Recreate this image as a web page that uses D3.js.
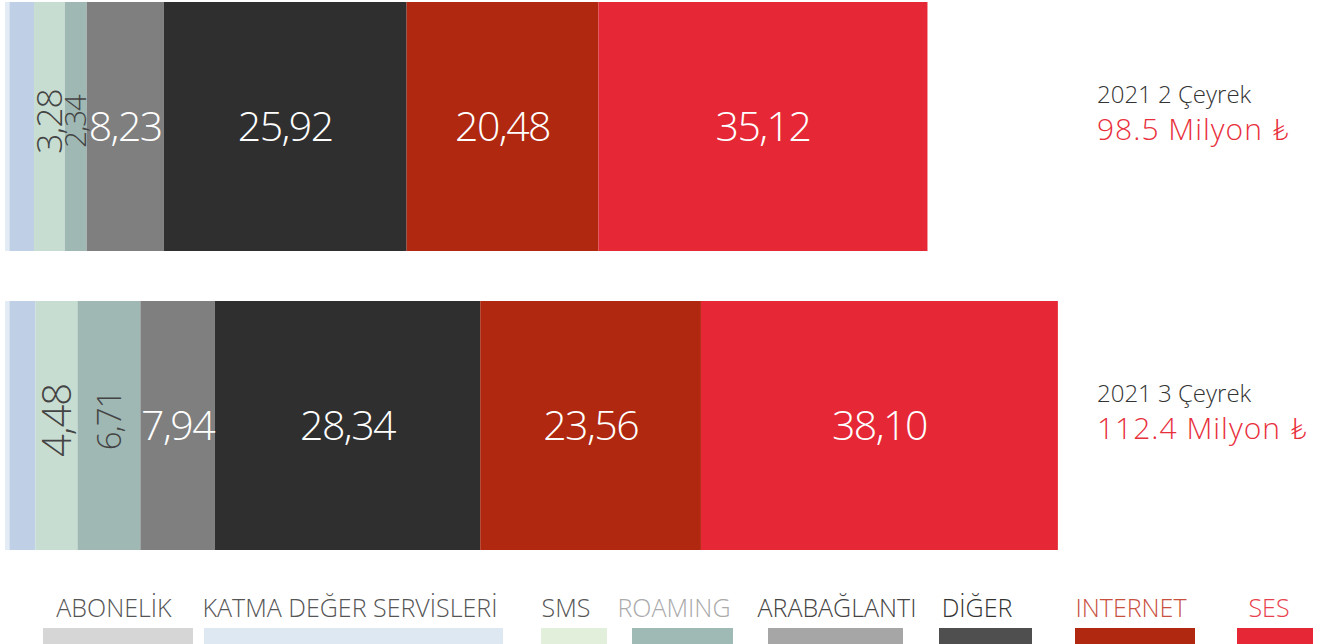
<!DOCTYPE html>
<html>
<head>
<meta charset="utf-8">
<script src="https://cdn.jsdelivr.net/npm/d3@7"></script>
<style>
  body { margin: 0; background: #fff; overflow: hidden; }
  text { font-family: "Open Sans", Lato, sans-serif; font-weight: 300; }
</style>
</head>
<body>
<div id="chart"></div>
<script>
// Set up SVG params
var svgWdt = 1324;
var svgHgt = 644;

// Data
var periods = ["2021 2 Çeyrek", "2021 3 Çeyrek"];
var totals = ["98.5 Milyon ₺", "112.4 Milyon ₺"];
var series = ["ABONELİK", "KATMA DEĞER SERVİSLERİ", "SMS", "ROAMING", "ARABAĞLANTI", "DİĞER", "INTERNET", "SES"];
var q2Values = [0.48, 2.62, 3.28, 2.34, 8.23, 25.92, 20.48, 35.12];
var q3Values = [0.48, 2.78, 4.48, 6.71, 7.94, 28.34, 23.56, 38.10];
var valueLabels = [
    ["", "", "3,28", "2,34", "8,23", "25,92", "20,48", "35,12"],
    ["", "", "4,48", "6,71", "7,94", "28,34", "23,56", "38,10"]
];

// Colours
var barColors = ["#e3ebf4", "#bfd0e6", "#c8ddd2", "#9fb8b3", "#7f7f7f", "#2f2f2f", "#b0280f", "#e62736"];
var swatchColors = ["#d6d6d6", "#dde8f3", "#e2efdb", "#9fbab5", "#a6a6a6", "#4f4f4f", "#b0280f", "#e62736"];
var legendTextColors = ["#555", "#555", "#555", "#aaa", "#444", "#333", "#c8503e", "#e8404c"];
var rotatedSeries = ["SMS", "ROAMING"];

// Legend layout (text centre, swatch left/right)
var legendTextX = [114, 350, 566, 674, 837, 977, 1131, 1269];
var legendSwatch = [[43, 193], [204, 503], [541, 607], [632, 733], [768, 903], [939, 1032], [1075, 1195], [1237, 1313]];

var allValues = [q2Values, q3Values];

var svg = d3.select("#chart").append("svg")
    .attr("width", svgWdt)
    .attr("height", svgHgt);

// Scales
var xMax = d3.sum(q3Values);
var x = d3.scaleLinear().domain([0, xMax]).range([5, 5 + xMax * 9.368]);
var y = d3.scaleBand().domain(periods).range([2, 550]).paddingInner(50 / 299).paddingOuter(0);

// Build stacked rows
var rows = periods.map((p, i) => {
    var acc = 0;
    return allValues[i].map((v, j) => {
        var seg = { period: p, row: i, idx: j, name: series[j], v: v, x0: acc, x1: acc + v, label: valueLabels[i][j] };
        acc += v;
        return seg;
    });
});
var segs = rows.flat();

var barGrp = svg.append("g");

barGrp.selectAll("rect").data(segs)
    .enter()
    .append("rect")
        .attr("x", d => x(d.x0))
        .attr("y", d => y(d.period))
        .attr("width", d => x(d.x1) - x(d.x0))
        .attr("height", y.bandwidth())
        .attr("fill", d => barColors[d.idx]);

// Horizontal labels
barGrp.selectAll(".hlbl").data(segs.filter(d => d.label && rotatedSeries.indexOf(d.name) < 0))
    .enter()
    .append("text")
        .attr("class", "hlbl")
        .attr("x", d => (x(d.x0) + x(d.x1)) / 2)
        .attr("y", d => y(d.period) + y.bandwidth() / 2)
        .attr("dy", "0.36em")
        .attr("text-anchor", "middle")
        .attr("fill", "#fff")
        .style("font-size", "41px")
        .style("letter-spacing", "-1.5px")
        .text(d => d.label);

// Rotated labels on narrow light segments
function vSize(w) {
    return w < 50 ? Math.min(40, 14 + 0.7 * w) : 33;
}
barGrp.selectAll(".vlbl").data(segs.filter(d => d.label && rotatedSeries.indexOf(d.name) >= 0))
    .enter()
    .append("text")
        .attr("class", "vlbl")
        .attr("transform", d => {
            var cx = (x(d.x0) + x(d.x1)) / 2;
            var cy = y(d.period) + y.bandwidth() / 2 - 5;
            return `translate(${cx}, ${cy}) rotate(-90)`;
        })
        .attr("dy", "0.36em")
        .attr("text-anchor", "middle")
        .attr("fill", "#444")
        .style("font-size", d => vSize(x(d.x1) - x(d.x0)) + "px")
        .style("letter-spacing", "-1px")
        .text(d => d.label);

// Period / total labels
var sideGrp = svg.append("g");
sideGrp.selectAll(".per").data(periods)
    .enter()
    .append("text")
        .attr("class", "per")
        .attr("x", 1097)
        .attr("y", d => y(d) + y.bandwidth() / 2 - 24)
        .attr("fill", "#333")
        .style("font-size", "24px")
        .text(d => d);
sideGrp.selectAll(".tot").data(totals)
    .enter()
    .append("text")
        .attr("class", "tot")
        .attr("x", 1097)
        .attr("y", (d, i) => y(periods[i]) + y.bandwidth() / 2 + 13)
        .attr("fill", "#e8303c")
        .style("font-size", "30px")
        .style("letter-spacing", "1px")
        .text(d => d);

// Legend
var legGrp = svg.append("g");
legGrp.selectAll(".legtxt").data(series)
    .enter()
    .append("text")
        .attr("class", "legtxt")
        .attr("x", (d, i) => legendTextX[i])
        .attr("y", 617)
        .attr("text-anchor", "middle")
        .attr("fill", (d, i) => legendTextColors[i])
        .style("font-size", "25px")
        .text(d => d);
legGrp.selectAll("rect").data(series)
    .enter()
    .append("rect")
        .attr("x", (d, i) => legendSwatch[i][0])
        .attr("y", 628)
        .attr("width", (d, i) => legendSwatch[i][1] - legendSwatch[i][0])
        .attr("height", 20)
        .attr("fill", (d, i) => swatchColors[i]);
</script>
</body>
</html>
